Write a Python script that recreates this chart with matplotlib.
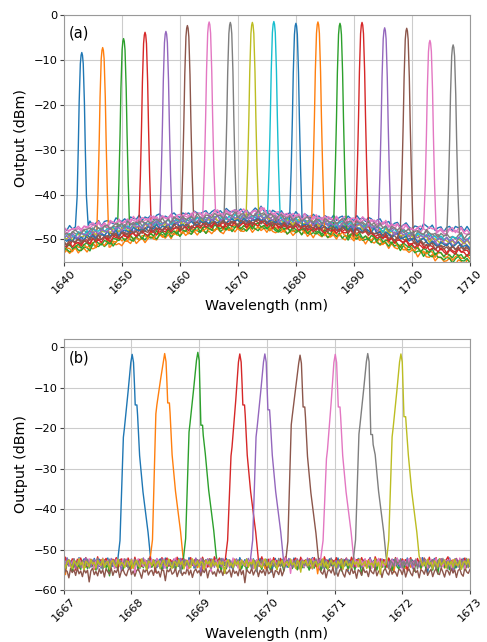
import numpy as np
import matplotlib.pyplot as plt

# ---- panel (a): 18 channels across the tuning range ----
peak_wl_a = [1643.1, 1646.7, 1650.3, 1654.0, 1657.6, 1661.3, 1665.05, 1668.7, 1672.5,
             1676.2, 1680.0, 1683.8, 1687.6, 1691.4, 1695.3, 1699.1, 1703.1, 1707.1]
peak_db_a = [-8.4, -7.3, -5.3, -3.9, -3.7, -2.4, -1.6, -1.7, -1.7,
             -1.5, -1.9, -1.6, -1.9, -1.7, -2.9, -3.0, -5.7, -6.7]

# spectral shape of one channel (offset in nm, level below peak in dB)
prof_off_a = [-1.1, -0.8, -0.6, -0.45, -0.25, -0.12, 0.0, 0.12, 0.25, 0.45, 0.6, 0.8, 1.1]
prof_drop_a = [-45, -32, -21, -11, -2.5, -0.6, 0, -0.6, -2.5, -11, -21, -32, -45]

# noise floor envelope, 1 nm steps from 1640 to 1710
floor_top_a = [-47.6, -47.5, -47.3, -47.1, -46.6, -46.4, -46.3, -46.2, -46.0, -45.8,
               -45.7, -45.5, -45.3, -45.3, -45.2, -45.0, -44.9, -44.9, -44.7, -44.6,
               -44.5, -44.4, -44.3, -44.0, -44.1, -43.9, -43.8, -43.9, -43.7, -43.6,
               -43.7, -43.7, -43.8, -43.4, -43.2, -43.8, -44.0, -44.2, -44.3, -44.4,
               -44.5, -44.7, -44.8, -44.9, -45.0, -45.1, -45.2, -45.3, -45.1, -45.3,
               -45.4, -45.3, -45.5, -45.6, -46.0, -46.2, -46.5, -46.6, -46.9, -47.0,
               -47.3, -47.2, -47.1, -47.3, -47.6, -47.8, -47.4, -47.5, -47.3, -47.8,
               -47.9]
floor_bot_a = [-53.0, -52.8, -52.6, -52.4, -52.3, -52.1, -51.8, -51.6, -51.4, -51.1,
               -50.9, -50.7, -50.5, -50.3, -50.1, -49.9, -49.7, -49.5, -49.3, -49.1,
               -49.0, -48.8, -48.7, -48.5, -48.4, -48.3, -48.2, -48.2, -48.1, -48.0,
               -48.1, -48.0, -47.9, -47.8, -47.9, -48.0, -48.3, -48.4, -48.5, -48.6,
               -48.6, -48.8, -48.9, -49.0, -49.2, -49.3, -49.4, -49.5, -49.6, -49.8,
               -50.0, -50.2, -50.4, -50.6, -50.9, -51.2, -51.5, -51.8, -52.2, -52.5,
               -52.9, -53.3, -53.7, -54.0, -54.3, -54.6, -55.0, -55.2, -55.0, -55.3,
               -55.2]
# fine ripple on the floor, 0.5 nm steps
ripple_a = [0.3, -0.4, 0.6, -0.2, 0.1, -0.6, 0.4, 0.2, -0.3, 0.7,
            -0.5, 0.0, 0.5, -0.7, 0.2, 0.4, -0.1, -0.5, 0.6, 0.1,
            -0.3, 0.3, -0.6, 0.5, 0.0, -0.2, 0.7, -0.4, 0.2, -0.1,
            0.4, -0.6, 0.3, 0.6, -0.3, 0.1, -0.5, 0.2, 0.5, -0.2,
            -0.6, 0.4, 0.0, 0.3, -0.4, 0.6, -0.1, -0.3, 0.2, 0.5,
            -0.6, 0.1, 0.4, -0.2, 0.3, -0.5, 0.6, 0.0, -0.3, 0.2,
            -0.1, 0.5, -0.4, 0.3, -0.6, 0.1, 0.4, -0.2, 0.6, -0.5,
            0.2, -0.7, 0.5, 0.1, -0.3, 0.6, -0.4, 0.0, 0.3, -0.5,
            0.7, -0.2, -0.6, 0.4, 0.1, -0.4, 0.5, -0.1, 0.2, -0.7,
            0.4, 0.0, -0.3, 0.6, -0.5, 0.2, 0.3, -0.6, 0.5, -0.1,
            -0.4, 0.7, -0.2, 0.1, -0.5, 0.4, 0.2, -0.7, 0.3, 0.6,
            -0.3, -0.1, 0.5, -0.6, 0.2, 0.4, -0.4, 0.1, 0.7, -0.2,
            -0.5, 0.3, 0.0, -0.7, 0.6, 0.1, -0.2, 0.5, -0.4, 0.2,
            0.6, -0.5, 0.1, 0.3, -0.6, 0.4, -0.1, 0.2, -0.3, 0.7,
            -0.2]
floor_pos_a = [1.0, 0.02, 0.08, 0.35, 0.55, 0.45, 0.95, 0.75, 0.6,
               0.7, 0.5, 0.15, 0.2, 0.3, 0.65, 0.4, 0.9, 0.8]
shift_a = [0, 15, 27, 43, 58, 71, 85, 99, 113, 128, 6, 21, 34, 50, 64, 78, 92, 107]

# ---- panel (b): 9 channels, fine scan ----
peak_wl_b = [1668.01, 1668.49, 1668.98, 1669.60, 1669.97, 1670.49, 1671.01, 1671.49, 1671.98]
peak_db_b = [-1.8, -1.6, -1.3, -1.7, -1.7, -2.0, -1.8, -1.6, -1.7]
shoulder_l_b = [-18.3, -12.7, -17.5, -23.0, -18.3, -15.0, -23.6, -17.7, -18.3]
shoulder_r_b = [-12.5, -12.2, -18.0, -12.6, -13.8, -12.8, -13.0, -20.0, -15.5]
prof_off_b = [-0.22, -0.18, -0.13, -0.115, -0.06, -0.02, 0.0, 0.02, 0.034,
              0.045, 0.07, 0.08, 0.11, 0.16, 0.235, 0.27]

floor_level_b = [-53.2, -53.6, -53.9, -53.0, -53.3, -55.6, -53.3, -53.4, -53.5]
# floor ripple, 0.025 nm steps from 1667 to 1673
ripple_b = [0.4, -0.6, 1.1, -0.2, 0.3, -1.3, 0.7, 0.1, -0.8, 1.2,
            -0.4, 0.2, 0.9, -1.1, 0.5, -0.3, 0.6, -0.9, 1.0, 0.0,
            -0.5, 0.8, -1.4, 0.3, 0.6, -0.2, 1.1, -0.7, 0.2, -1.0,
            0.5, 0.9, -0.4, -1.2, 0.7, 0.1, -0.6, 1.2, -0.3, 0.4,
            -1.5, 0.6, 0.2, -0.8, 1.0, -0.1, 0.3, -1.1, 0.8, 0.0,
            -0.4, 1.2, -0.9, 0.2, 0.6, -1.3, 0.4, 0.9, -0.2, -0.7,
            1.1, -0.5, 0.3, 0.0, -1.0, 0.7, 0.5, -0.6, 1.0, -1.2,
            0.2, 0.8, -0.3, -0.9, 1.2, -0.1, 0.4, -1.4, 0.6, 0.3,
            -0.5, 1.0, -0.8, 0.1, 0.7, -1.1, 0.2, 0.9, -0.4, -0.6,
            1.1, 0.0, -1.2, 0.5, 0.3, -0.7, 1.0, -0.2, 0.6, -1.3,
            0.4, 0.8, -0.5, -1.0, 1.2, 0.1, -0.3, 0.7, -0.9, 0.5,
            0.2, -1.4, 0.9, -0.1, 0.6, -0.8, 1.0, -0.4, 0.3, -1.1,
            0.7, -0.2, 0.5, -2.4, 0.3, 1.0, -0.6, 0.2, -0.9, 0.8,
            -0.3, 0.6, -1.2, 0.9, 0.1, -0.5, 1.1, -0.8, 0.4, -0.1,
            1.0, -1.3, 0.2, 0.7, -0.4, -0.9, 0.5, 1.2, -0.6, 0.3,
            -1.0, 0.4, 0.8, -0.2, -1.5, 0.6, 0.0, 0.9, -0.7, 0.2,
            0.5, -0.8, 1.1, -0.3, 0.2, -1.2, 0.7, 0.4, -2.1, 0.6,
            0.1, 0.9, -0.5, -0.1, 1.0, -1.1, 0.3, 0.6, -0.8, 0.0,
            -0.4, 1.2, -0.7, 0.5, -1.3, 0.2, 0.8, -0.2, 0.4, -0.9,
            0.6, -0.1, 1.0, -1.4, 0.3, 0.7, -0.5, 0.1, -1.0, 0.9,
            -0.2, 0.5, -0.8, 1.1, -0.4, 0.0, 0.6, -1.2, 0.8, -0.3,
            0.2, -0.9, 1.2, -0.6, 0.4, -2.6, 0.7, 0.1, -0.3, 1.0,
            -0.7, 0.3, 0.9, -1.1, 0.5, -0.2, 0.6, -0.8, 1.1, -0.4,
            0.0, 0.8, -1.3, 0.4, 0.2, -0.6, 1.0, -0.9, 0.3, 0.7,
            -0.5]
shift_b = [0, 27, 53, 80, 107, 133, 160, 187, 213]

wl_a = np.arange(len(ripple_a)) * 0.5 + 1640
wl_b = np.arange(len(ripple_b)) * 0.025 + 1667


def build_trace(grid, floor, center, peak, offs, drops, lo, hi):
    keep = (grid < center + lo) | (grid > center + hi)
    px = center + np.array(offs)
    py = []
    for x, d in zip(px, drops):
        f = floor[np.abs(grid - x).argmin()]
        py.append(max(peak + d, f))
    x = np.concatenate([grid[keep], px])
    y = np.concatenate([floor[keep], py])
    order = np.argsort(x)
    return x[order], y[order]


plt.rcParams['font.family'] = 'DejaVu Sans'
fig = plt.figure(figsize=(4.87, 6.42), dpi=100)
ax1 = fig.add_axes([0.131, 0.592, 0.834, 0.385])
ax2 = fig.add_axes([0.131, 0.081, 0.834, 0.391])

# envelope held over each 0.5 nm step
top = np.repeat(floor_top_a, 2)[:len(wl_a)]
bot = np.repeat(floor_bot_a, 2)[:len(wl_a)]
for i in range(len(peak_wl_a)):
    floor = bot + floor_pos_a[i] * (top - bot) + np.roll(ripple_a, shift_a[i])
    x, y = build_trace(wl_a, floor, peak_wl_a[i], peak_db_a[i],
                       prof_off_a, prof_drop_a, -1.1, 1.1)
    ax1.plot(x, y, color='C%d' % (i % 10), lw=1.0)

for i in range(len(peak_wl_b)):
    floor = floor_level_b[i] + np.roll(ripple_b, shift_b[i])
    sl, sr = shoulder_l_b[i], shoulder_r_b[i]
    drops = [-52, -46, sl - 2.2, sl, sl * 0.5, -2, 0, -2, sr * 0.6,
             sr, sr, sr - 2.5, -25, -34, -44, -50]
    x, y = build_trace(wl_b, floor, peak_wl_b[i], peak_db_b[i],
                       prof_off_b, drops, -0.22, 0.27)
    ax2.plot(x, y, color='C%d' % (i % 10), lw=1.0)

ax1.set_xlim(1640, 1710)
ax1.set_ylim(-55, 0)
ax1.set_yticks([-50, -40, -30, -20, -10, 0])
ax2.set_xlim(1667, 1673)
ax2.set_ylim(-60, 2)
ax2.set_yticks([-60, -50, -40, -30, -20, -10, 0])

for ax, tag in [(ax1, '(a)'), (ax2, '(b)')]:
    ax.grid(True, color='#cccccc', lw=0.8)
    ax.set_axisbelow(True)
    for s in ax.spines.values():
        s.set_color('#999999')
    ax.tick_params(colors='#444444', labelcolor='black', labelsize=8.2,
                   length=3, pad=1.2)
    for lab in ax.get_xticklabels():
        lab.set_rotation(45)
    ax.set_xlabel('Wavelength (nm)', fontsize=10.3, labelpad=2.5)
    ax.set_ylabel('Output (dBm)', fontsize=10.3)
    ax.text(0.012, 0.925, tag, transform=ax.transAxes, fontsize=10.5, va='center')

fig.savefig('out.png', dpi=100)
